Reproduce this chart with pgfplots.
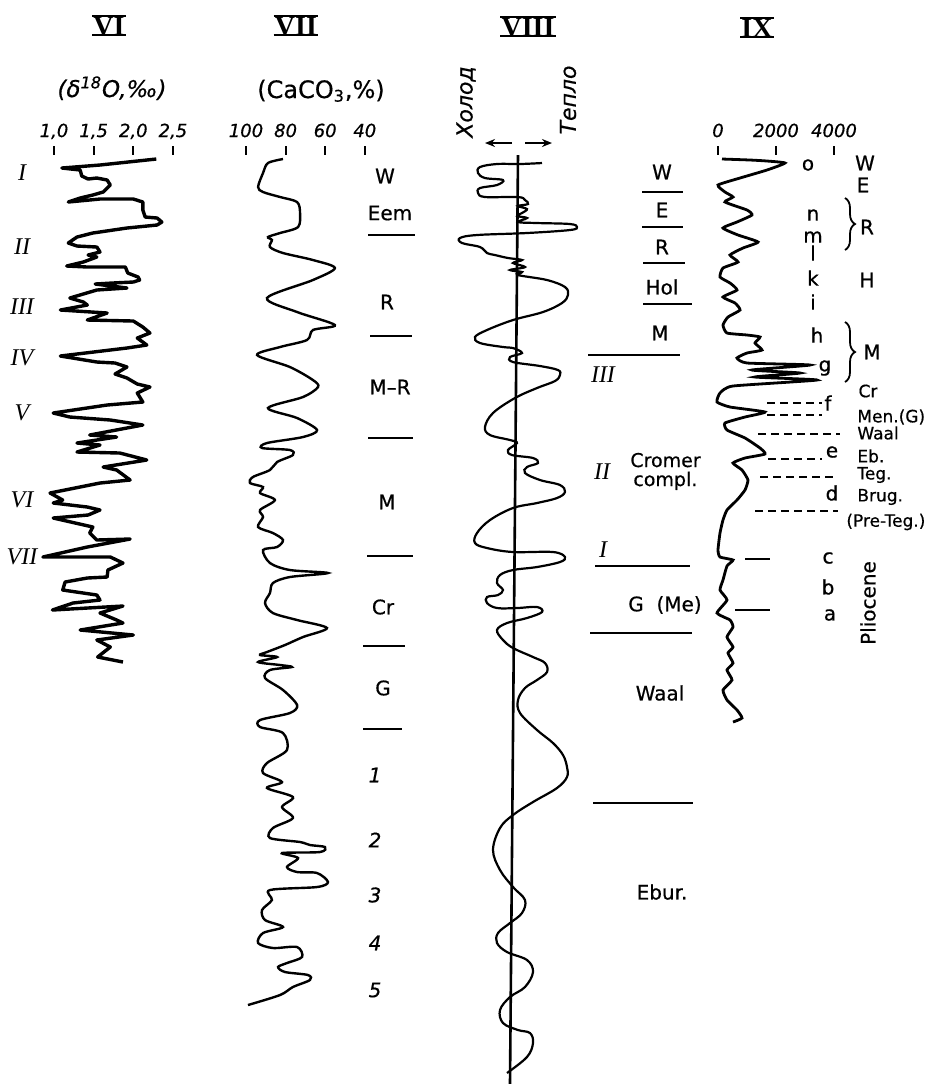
\documentclass[border=0pt]{standalone}
\usepackage{fontspec}
\setmainfont{DejaVu Sans}[FakeBold=0.6]
\newfontfamily\serif{Liberation Serif}
\usepackage{pgfplots}
\pgfplotsset{compat=1.18}
\usetikzlibrary{arrows.meta,decorations.pathreplacing}
\pgfplotsset{panel/.style={scale only axis, hide axis, height=542pt, ymin=0, ymax=1084, y dir=reverse, clip=false, anchor=north west}}
\begin{document}
\begin{tikzpicture}
\useasboundingbox (0,0) rectangle (473.5pt,-542pt);
% ---------- VI : delta 18O ----------
\begin{axis}[panel, at={(0pt,0pt)}, width=115pt, xmin=0.3190, xmax=3.2194]
\addplot[line width=1.7pt, line join=round] coordinates {
(2.29,159) (1.58,165) (1.10,168) (1.33,170) (1.35,176) (1.43,179) (1.54,178) (1.67,180) (1.71,185) (1.62,192)
(1.49,195) (1.33,198) (1.18,202) (1.58,199) (2.00,199) (2.12,202) (2.12,210) (2.15,217) (2.30,218) (2.36,222)
(2.30,225) (1.92,228) (1.49,233) (1.29,237) (1.18,243) (1.29,246) (1.54,247) (1.58,252) (1.43,255) (1.54,257)
(1.37,262) (1.16,266) (1.42,267) (1.90,267) (1.93,273) (2.06,277) (2.08,280) (2.00,282) (1.74,283) (1.52,284)
(1.92,288) (1.54,290) (1.20,298) (1.37,302) (1.42,305) (1.08,310) (1.67,313) (1.42,320) (2.00,321) (2.12,327)
(2.21,333) (2.05,338) (2.17,345) (1.92,348) (1.08,356) (1.54,362) (1.77,363) (1.92,367) (1.77,374) (1.92,378)
(2.05,384) (2.21,387) (2.05,393) (2.12,402) (1.67,405) (0.99,413) (1.20,417) (1.71,420) (2.12,425) (1.45,435)
(1.79,437) (1.29,443) (1.58,445) (1.29,452) (1.83,453) (2.17,460) (1.62,467) (1.79,470) (1.96,480) (1.58,483)
(0.95,493) (1.11,500) (0.99,503) (1.42,507) (1.58,510) (1.43,515) (0.99,518) (1.49,527) (1.45,533) (1.54,540)
(1.96,539) (1.42,547) (0.86,557) (1.71,557) (1.87,563) (1.68,570) (1.67,577) (1.42,578) (1.14,582) (1.11,590)
(1.54,595) (1.58,600) (1.24,603) (0.98,610) (1.87,606) (1.58,613) (1.79,620) (1.87,623) (1.33,630) (2.00,635)
(1.54,640) (1.71,647) (1.55,657) (1.87,662)};
\end{axis}
% ---------- VII : CaCO3 ----------
\begin{axis}[panel, at={(115pt,0pt)}, width=115pt, x dir=reverse, xmin=-8.08, xmax=108.08]
\addplot[line width=1.2pt, smooth, tension=0.5] coordinates {
(81.3,159) (88.9,163) (91.4,173) (93.9,187) (91.4,192) (82.8,197) (74.2,202) (72.7,213) (73.7,227) (82.8,233)
(88.9,237) (86.9,240) (87.9,247) (81.3,253) (66.2,260) (55.1,268) (66.2,280) (89.4,298) (74.2,312) (55.1,325)
(66.2,330) (69.2,340) (82.8,347) (94.4,355) (77.8,367) (66.2,380) (63.6,387) (71.2,397) (88.9,408) (74.2,418)
(64.1,430) (71.2,437) (89.4,443) (91.9,448) (77.8,450) (76.3,455) (84.3,462) (87.9,470) (96.5,477) (98.0,483)
(91.4,487) (92.9,493) (85.4,500) (92.9,510) (91.4,517) (93.9,527) (86.4,533) (81.3,540) (84.3,547) (91.4,550)
(87.9,563) (77.8,570) (58.6,573) (77.8,577) (86.4,583) (87.9,593) (90.4,603) (86.4,613) (74.2,620) (59.1,628)
(71.2,637) (80.3,645) (89.4,652) (92.9,655) (84.3,657) (93.9,662) (82.8,665) (76.8,667) (87.9,670) (90.4,678)
(81.3,690) (74.2,705) (77.8,713) (92.9,720) (92.9,727) (81.3,733) (79.3,750) (89.4,763) (91.4,773) (81.8,782)
(89.4,788) (76.3,797) (81.8,807) (76.3,818) (86.4,828) (87.9,838) (72.7,842) (67.7,845) (60.1,847) (62.6,852)
(81.8,853) (73.7,858) (79.3,867) (74.2,872) (64.1,873) (58.6,882) (64.1,887) (87.9,890) (86.9,900) (91.9,910)
(90.4,920) (81.3,927) (91.4,933) (93.9,943) (86.4,948) (74.2,947) (71.7,957) (79.3,963) (83.8,967) (80.3,972)
(68.7,975) (67.7,980) (76.3,987) (82.8,995) (99.0,1005)};
\end{axis}
% ---------- VIII : cold / warm ----------
\begin{axis}[panel, at={(230pt,0pt)}, width=120pt, xmin=460, xmax=700]
\addplot[line width=1.3pt] coordinates {(518,155) (510,1084)};
\addplot[line width=1.1pt, smooth, tension=0.6] coordinates {
(542,163) (520,164) (497,164) (480,167) (478,173) (485,178) (503,180) (497,185) (480,188) (478,193)
(485,197) (518,197) (525,200) (528,204) (518,206) (527,209) (522,213) (517,216) (527,218) (518,222)
(537,223) (570,224) (577,227) (570,230) (527,233) (477,235) (460,238) (462,243) (480,247) (487,253)
(495,255) (508,258) (522,260) (513,263) (525,267) (510,270) (522,272) (518,275) (547,280) (565,287)
(568,295) (562,303) (543,312) (513,320) (487,330) (475,337) (480,343) (503,347) (513,348) (522,353)
(510,357) (513,362) (540,366) (558,370) (560,375) (555,381) (537,388) (515,398) (493,413) (485,427)
(490,435) (510,440) (517,443) (508,450) (512,455) (533,458) (538,463) (527,467) (525,473) (540,480)
(560,485) (565,492) (557,498) (537,503) (513,508) (490,520) (477,533) (475,543) (487,548) (513,552)
(553,552) (565,557) (560,562) (537,567) (513,570) (500,575) (497,583) (503,590) (498,595) (487,597)
(487,603) (497,608) (517,608) (537,607) (542,612) (527,618) (507,623) (497,630) (503,640) (513,648)
(533,657) (545,663) (547,672) (537,680) (525,688) (518,700) (520,713) (537,730) (553,743) (563,755)
(567,767) (567,777) (557,788) (533,802) (513,815) (500,828) (493,850) (500,870) (513,887) (525,900)
(522,913) (510,923) (498,933) (497,943) (507,952) (527,960) (533,972) (525,987) (510,997) (500,1010)
(503,1023) (518,1030) (530,1033) (533,1043) (527,1057) (507,1073)};
\end{axis}
% ---------- IX ----------
\begin{axis}[panel, at={(350pt,0pt)}, width=123.5pt, xmin=-620.7, xmax=7896.5]
\addplot[line width=1.4pt, smooth, tension=0.3] coordinates {
(138,159) (1103,160) (1690,161) (2310,163) (1690,170) (759,178) (0,185) (241,192) (517,197) (241,202)
(1000,210) (1172,215) (655,222) (172,228) (690,235) (1379,242) (862,248) (414,255) (690,262) (172,268)
(69,277) (414,283) (655,290) (172,297) (586,303) (759,310) (345,317) (172,325) (310,333) (1000,335)
(1448,337) (1276,343) (1517,350) (1000,353) (655,358) (1000,363) (3172,365) (1172,370) (2827,373) (1276,377)
(3413,380) (517,386) (69,393) (-34,402) (414,407) (1620,412) (931,417) (241,423) (310,430) (931,438)
(1448,448) (1620,454) (931,458) (517,463) (828,470) (1034,480) (931,490) (655,500) (310,510) (172,520)
(69,533) (0,550) (69,557) (517,560) (310,566) (172,580) (69,590) (310,600) (-34,613) (414,620)
(517,627) (310,637) (517,647) (345,653) (517,663) (310,670) (483,680) (172,690) (310,700) (655,710)
(828,718) (517,722)};
\end{axis}
% ---------- text and decorations (pixel grid) ----------
\begin{scope}[x=0.5pt,y=-0.5pt]
\tikzset{lab/.style={font=\fontsize{10}{11}\selectfont, inner sep=0pt},
 sm/.style={font=\fontsize{8.5}{9}\selectfont, inner sep=0pt},
 tk/.style={font=\fontsize{9}{10}\selectfont\itshape, inner sep=0pt, anchor=base},
 rn/.style={font=\fontsize{12}{13}\selectfont\serif\itshape, inner sep=0pt},
 hd/.style={font=\fontsize{14}{15}\selectfont\serif\bfseries, inner xsep=0.5pt, inner ysep=0pt, anchor=base,
   append after command={(\tikzlastnode.north west) edge[line width=1.1pt] (\tikzlastnode.north east)
                         (\tikzlastnode.base west) edge[line width=1.1pt] (\tikzlastnode.base east)}},
 sep/.style={line width=1pt}}
% headings
\node[hd, text height=9.2pt] at (109,35) {VI};
\node[hd, text height=9.2pt] at (296,35) {VII};
\node[hd, text height=9.2pt] at (528,36) {VIII};
\node[hd, text height=9.2pt] at (757,37) {IX};
% titles
\node[font=\fontsize{11.5}{13}\selectfont\itshape, inner sep=0pt, anchor=base] at (112,97) {(δ\textsuperscript{18}O,‰)};
\node[font=\fontsize{12}{13}\selectfont, inner sep=0pt, anchor=base] at (321,98) {(CaCO\textsubscript{3},\%)};
% ticks VI
\foreach \x/\l in {54/{1,0},93.65/{1,5},133.3/{2,0},172.95/{2,5}} {
 \draw[line width=0.9pt] (\x,146) -- (\x,155);
 \node[tk] at (\x,137) {\l};}
% ticks VII
\foreach \x/\l in {246/100,285.6/80,325.2/60,364.8/40} {
 \draw[line width=0.9pt] (\x,146) -- (\x,155);
 \node[tk] at (\x,137) {\l};}
% ticks IX
\foreach \x/\l in {718/0,776/2000,834/4000} {
 \draw[line width=0.9pt] (\x,146) -- (\x,155);
 \node[tk] at (\x,137) {\l};}
% roman numerals VI
\foreach \y/\l in {173/I,247/II,307/III,358/IV,413/V,500/VI,557/VII} {\node[rn] at (22,\y) {\l};}
% VII labels
\node[lab] at (385,176) {W};
\node[lab] at (390,213) {Eem};
\node[lab] at (387,302) {R};
\node[lab] at (390,387) {M–R};
\node[lab] at (387,502) {M};
\node[lab] at (383,607) {Cr};
\node[lab] at (383,688) {G};
\foreach \y/\l in {775/1,840/2,895/3,943/4,990/5} {\node[lab,font=\fontsize{10}{11}\selectfont\itshape] at (375,\y) {\l};}
\draw[sep] (368,235) -- (415,235);
\draw[sep] (370,336) -- (412,336);
\draw[sep] (368,438) -- (413,438);
\draw[sep] (367,556) -- (413,556);
\draw[sep] (363,646) -- (405,646);
\draw[sep] (363,729) -- (402,729);
% VIII header
\node[font=\fontsize{11}{13}\selectfont\itshape, inner sep=0pt, rotate=90] at (466,102) {Холод};
\node[font=\fontsize{11}{13}\selectfont\itshape, inner sep=0pt, rotate=90] at (568,100) {Тепло};
\draw[line width=1pt, -{Stealth[length=5pt,width=4pt]}] (512,143) -- (485,143);
\draw[line width=1pt, -{Stealth[length=5pt,width=4pt]}] (525,143) -- (552,143);
% VIII labels
\node[lab] at (662,172) {W};
\draw[sep] (642,192) -- (683,192);
\node[lab] at (662,210) {E};
\draw[sep] (642,227) -- (683,227);
\node[lab] at (662,247) {R};
\draw[sep] (643,263) -- (685,263);
\node[lab] at (662,287) {Hol};
\draw[sep] (643,304) -- (692,304);
\node[lab] at (660,333) {M};
\draw[sep] (588,355) -- (680,355);
\node[rn] at (603,375) {III};
\node[rn] at (602,472) {II};
\node[font=\fontsize{9.5}{10}\selectfont, inner sep=0pt, anchor=base west] at (630,467) {Cromer};
\node[font=\fontsize{9.5}{10}\selectfont, inner sep=0pt, anchor=base west] at (633,486) {compl.};
\node[rn] at (603,550) {I};
\draw[sep] (595,566) -- (690,566);
\node[lab] at (665,605) {G\ \ (Me)};
\draw[sep] (590,633) -- (692,633);
\node[lab] at (660,693) {Waal};
\draw[sep] (593,803) -- (693,803);
\node[lab] at (662,892) {Ebur.};
% IX labels
\foreach \x/\y/\l in {808/165/o,813/215/n,813/237/m,813/253/l,813/278/k,813/302/i,817/335/h,825/368/g,828/403/f,832/452/e,832/493/d,828/558/c,828/587/b,830/615/a} {\node[lab] at (\x,\y) {\l};}
\node[lab] at (865,163) {W};
\node[lab] at (863,185) {E};
\node[lab] at (867,227) {R};
\node[lab] at (867,280) {H};
\node[lab] at (872,352) {M};
\draw[line width=0.9pt, decorate, decoration={brace, amplitude=5pt}] (845,198) -- (845,250);
\draw[line width=0.9pt, decorate, decoration={brace, amplitude=5pt}] (845,322) -- (845,382);
\node[sm] at (868,391) {Cr};
\node[sm, anchor=west] at (857,417) {Men.(G)};
\node[sm, anchor=west] at (857,433) {Waal};
\node[sm, anchor=west] at (857,456) {Eb.};
\node[sm, anchor=west] at (857,475) {Teg.};
\node[sm, anchor=west] at (857,497) {Brug.};
\node[sm, anchor=west] at (846,522) {(Pre-Teg.)};
\node[lab, rotate=90] at (868,603) {Pliocene};
\tikzset{dsh/.style={line width=1pt, dash pattern=on 4pt off 2.5pt}}
\draw[dsh] (767,403) -- (822,403);
\draw[dsh] (767,415) -- (822,415);
\draw[dsh] (758,434) -- (840,434);
\draw[dsh] (768,459) -- (822,459);
\draw[dsh] (760,477) -- (837,477);
\draw[dsh] (755,511) -- (838,511);
\draw[sep] (745,559) -- (770,559);
\draw[sep] (735,610) -- (770,610);
\end{scope}
\end{tikzpicture}
\end{document}
